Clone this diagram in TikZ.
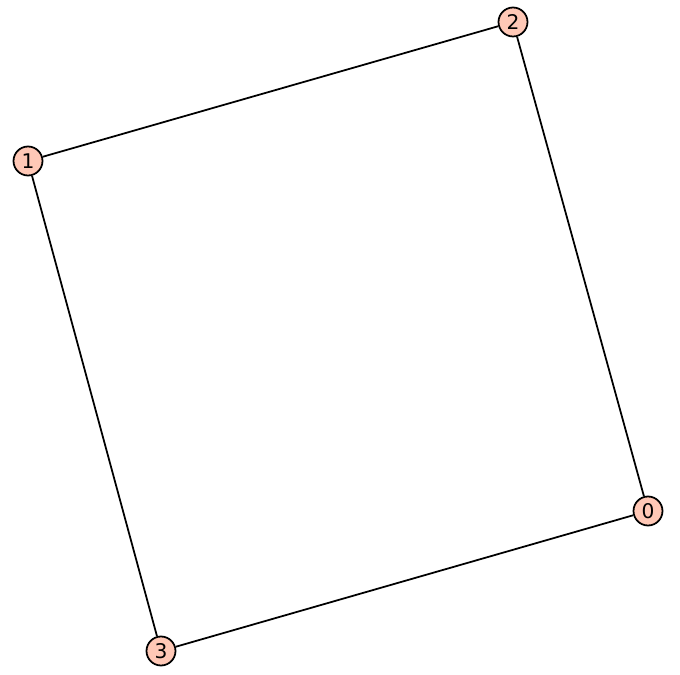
\documentclass[tikz,border=0pt]{standalone}
\usepackage{fontspec}
\setmainfont{DejaVu Sans}
\definecolor{vfill}{HTML}{FFC8B6}
\begin{document}
\begin{tikzpicture}[line width=1pt, x=0.02cm, y=-0.02cm]
  \tikzset{vert/.style={circle, draw, fill=vfill, minimum size=0.58cm, inner sep=0pt, font=\fontsize{11.5}{13}\selectfont}}
  \useasboundingbox (0,0) rectangle (680,675);
  \node[vert] (v0) at (648,511) {0};
  \node[vert] (v1) at (28,161) {1};
  \node[vert] (v2) at (513,22) {2};
  \node[vert] (v3) at (161,651) {3};
  \draw (v1) -- (v2);
  \draw (v2) -- (v0);
  \draw (v0) -- (v3);
  \draw (v3) -- (v1);
\end{tikzpicture}
\end{document}
